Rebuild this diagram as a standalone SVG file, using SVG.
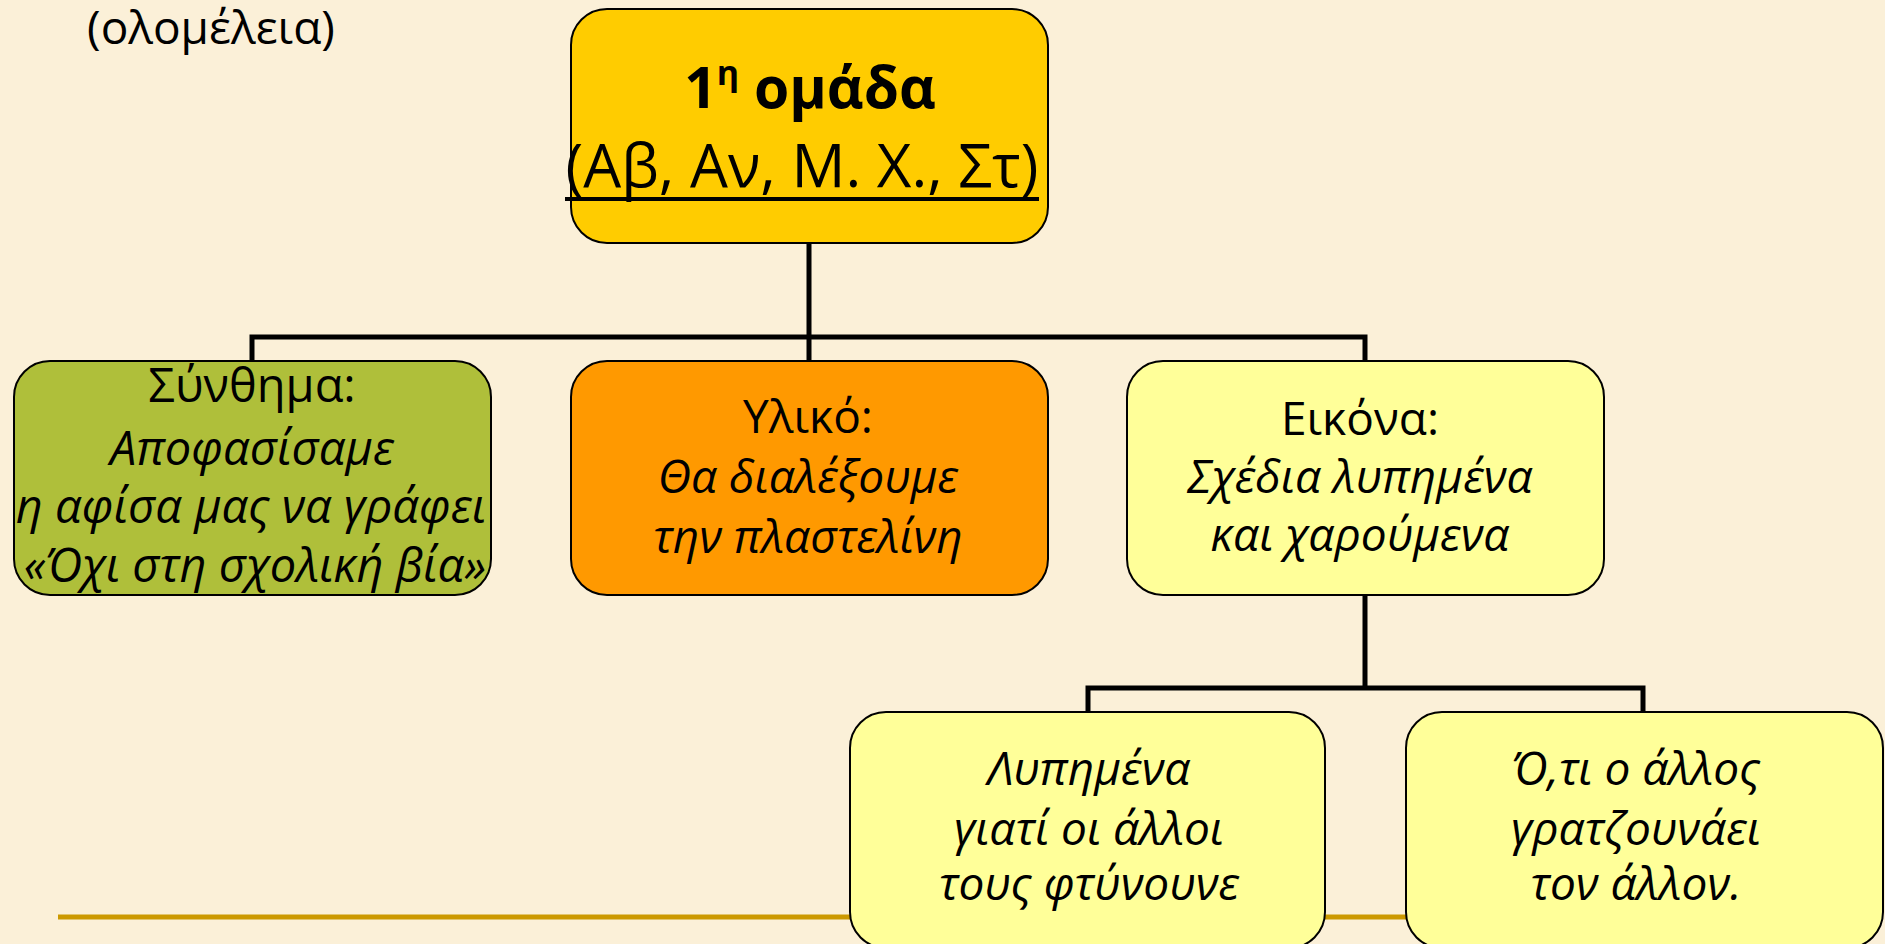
<svg xmlns="http://www.w3.org/2000/svg" width="1885" height="944" viewBox="0 0 1885 944">
<style>
.node{stroke:#000;stroke-width:2}
.t{font-family:"Open Sans","Noto Sans","DejaVu Sans",sans-serif;font-size:46px;fill:#000;text-anchor:middle}
.i{font-style:italic}
.conn{fill:none;stroke:#000;stroke-width:5;stroke-linejoin:miter;stroke-linecap:square}
</style>
<rect x="0" y="0" width="1885" height="944" fill="#FBF0D8"/>
<line x1="58" y1="917" x2="1500" y2="917" stroke="#CC9900" stroke-width="5"/>
<text class="t" x="211" y="44" style="font-size:46px">(ολομέλεια)</text>
<g id="connectors">
<path class="conn" d="M809,243 V337 M252,361 V337 H1365 V361 M809,337 V361"/>
<path class="conn" d="M1365,595 V688 M1088,712 V688 H1643 V712"/>
</g>
<g id="n-top">
<rect class="node" x="571" y="9" width="477" height="234" rx="36" fill="#FFCC00"/>
<text class="t" x="810" y="108" style="font-size:57px;font-weight:bold">1<tspan style="font-size:34px" dy="-23">η</tspan><tspan dy="23"> ομάδα</tspan></text>
<text class="t" x="802" y="187" style="font-size:60px">(Αβ, Αν, Μ. Χ., Στ)</text>
<line x1="565" y1="199" x2="1039" y2="199" stroke="#000" stroke-width="4"/>
</g>
<g id="n-synthima">
<rect class="node" x="14" y="361" width="477" height="234" rx="36" fill="#AFBF3A"/>
<text class="t" x="252" y="402" style="font-size:47px">Σύνθημα:</text>
<text class="t i" x="252" y="465" style="font-size:47px">Αποφασίσαμε</text>
<text class="t i" x="251" y="523" style="font-size:47px">η αφίσα μας να γράφει</text>
<text class="t i" x="255" y="582" style="font-size:47px">«Όχι στη σχολική βία»</text>
</g>
<g id="n-yliko">
<rect class="node" x="571" y="361" width="477" height="234" rx="36" fill="#FF9900"/>
<text class="t" x="808" y="433">Υλικό:</text>
<text class="t i" x="808" y="493">Θα διαλέξουμε</text>
<text class="t i" x="808" y="553">την πλαστελίνη</text>
</g>
<g id="n-eikona">
<rect class="node" x="1127" y="361" width="477" height="234" rx="36" fill="#FFFF99"/>
<text class="t" x="1360" y="435">Εικόνα:</text>
<text class="t i" x="1360" y="493">Σχέδια λυπημένα</text>
<text class="t i" x="1360" y="551">και χαρούμενα</text>
</g>
<g id="n-lypimena">
<rect class="node" x="850" y="712" width="475" height="236" rx="36" fill="#FFFF99"/>
<text class="t i" x="1089" y="785">Λυπημένα</text>
<text class="t i" x="1089" y="845">γιατί οι άλλοι</text>
<text class="t i" x="1089" y="900">τους φτύνουνε</text>
</g>
<g id="n-oti">
<rect class="node" x="1406" y="712" width="477" height="236" rx="36" fill="#FFFF99"/>
<text class="t i" x="1636" y="785">Ό,τι ο άλλος</text>
<text class="t i" x="1636" y="845">γρατζουνάει</text>
<text class="t i" x="1636" y="900">τον άλλον.</text>
</g>
</svg>
